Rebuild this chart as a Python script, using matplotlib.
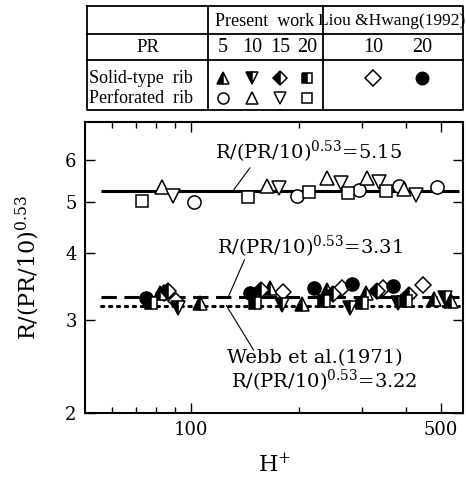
import numpy as np
import matplotlib
matplotlib.use('Agg')
import matplotlib.pyplot as plt
from matplotlib.ticker import FixedLocator, NullLocator, FixedFormatter

plt.rcParams['mathtext.fontset'] = 'dejavuserif'

# H+ and R/(PR/10)^0.53
# perforated ribs (upper group)
perf_pr5_h = [102, 198, 295, 382, 488]
perf_pr5_r = [5.01, 5.14, 5.27, 5.37, 5.33]
perf_pr10_h = [83, 163, 240, 311, 393]
perf_pr10_r = [5.33, 5.37, 5.55, 5.56, 5.30]
perf_pr15_h = [89, 176, 262, 336, 426]
perf_pr15_r = [5.14, 5.31, 5.43, 5.45, 5.16]
perf_pr20_h = [73, 144, 213, 275, 350]
perf_pr20_r = [5.03, 5.12, 5.22, 5.20, 5.24]

# solid-type ribs (lower group)
solid_pr5_h = [82, 106, 166, 204, 240, 308, 479, 533]
solid_pr5_r = [3.37, 3.23, 3.44, 3.21, 3.42, 3.37, 3.28, 3.25]
solid_pr10_h = [92, 179, 279, 378, 512]
solid_pr10_r = [3.16, 3.20, 3.16, 3.23, 3.30]
solid_pr15_h = [86, 157, 250, 330, 408]
solid_pr15_r = [3.40, 3.42, 3.36, 3.40, 3.34]
solid_pr20_h = [77, 151, 235, 301, 399]
solid_pr20_r = [3.23, 3.23, 3.25, 3.23, 3.25]

# Liou & Hwang (1992)
lh_pr10_h = [84, 91, 181, 264, 343, 444]
lh_pr10_r = [3.37, 3.25, 3.39, 3.44, 3.44, 3.49]
lh_pr20_h = [75, 146, 220, 282, 366]
lh_pr20_r = [3.30, 3.37, 3.44, 3.50, 3.47]

# correlation lines
perf_fit = 5.25
solid_fit = 3.31
webb_fit = 3.19
fit_h = [56, 560]

serif = 'DejaVu Serif'
tabfont = 'Liberation Serif'

fig = plt.figure(figsize=(4.66, 4.79), dpi=100)
ax = fig.add_axes([85/466, 1-413/479, 378/466, 291/479])
ax.set_xscale('log')
ax.set_yscale('log')
ax.set_xlim(50.5, 576)
ax.set_ylim(2, 7.08)

ax.plot(fit_h, [perf_fit]*2, color='black', lw=2.2, solid_capstyle='butt')
ax.plot(fit_h, [solid_fit]*2, color='black', lw=2.2, ls=(0, (5, 2.5)))
ax.plot(fit_h, [webb_fit]*2, color='black', lw=2.2, ls=(0, (0.8, 1.8)), dash_capstyle='round')

ms = 9.5
open_kw = dict(ls='none', mfc='white', mec='black', mew=1.1, ms=ms)
half_kw = dict(ls='none', mfc='black', mfcalt='white', mec='black', mew=1.1,
               ms=ms, fillstyle='left')
ax.plot(perf_pr5_h, perf_pr5_r, 'o', **open_kw)
ax.plot(perf_pr10_h, perf_pr10_r, '^', **open_kw)
ax.plot(perf_pr15_h, perf_pr15_r, 'v', **open_kw)
ax.plot(perf_pr20_h, perf_pr20_r, 's', **dict(open_kw, ms=9))
ax.plot(lh_pr10_h, lh_pr10_r, 'D', **dict(open_kw, ms=8.5))
ax.plot(lh_pr20_h, lh_pr20_r, 'o', ls='none', color='black', ms=ms)
ax.plot(solid_pr5_h, solid_pr5_r, '^', **half_kw)
ax.plot(solid_pr10_h, solid_pr10_r, 'v', **half_kw)
ax.plot(solid_pr15_h, solid_pr15_r, 'D', **dict(half_kw, ms=8.5))
ax.plot(solid_pr20_h, solid_pr20_r, 's', **dict(half_kw, ms=8.5))

lab = 'R/(PR/10)$^{0.53}$='
afs = 14
ax.text(213, 6.22, lab + '5.15', ha='center', va='center', fontsize=afs, family=serif)
ax.plot([146, 131], [5.80, perf_fit], color='black', lw=0.8)
ax.text(215, 4.11, lab + '3.31', ha='center', va='center', fontsize=afs, family=serif)
ax.plot([141, 127], [3.89, solid_fit], color='black', lw=0.8)
ax.text(222, 2.54, 'Webb et al.(1971)', ha='center', va='center', fontsize=afs, family=serif)
ax.text(236, 2.30, lab + '3.22', ha='center', va='center', fontsize=afs, family=serif)
ax.plot([125.5, 149.5], [webb_fit, 2.63], color='black', lw=0.8)

ax.xaxis.set_major_locator(FixedLocator([100, 500]))
ax.xaxis.set_major_formatter(FixedFormatter(['100', '500']))
ax.xaxis.set_minor_locator(FixedLocator([60, 70, 80, 90, 200, 300, 400]))
ax.yaxis.set_major_locator(FixedLocator([2, 3, 4, 5, 6]))
ax.yaxis.set_major_formatter(FixedFormatter(['2', '3', '4', '5', '6']))
ax.yaxis.set_minor_locator(NullLocator())
ax.tick_params(which='both', direction='in', top=True, right=True, width=1.0,
               labelsize=13, pad=6)
ax.tick_params(which='major', length=7)
ax.tick_params(which='minor', length=4)
for lbl in ax.get_xticklabels() + ax.get_yticklabels():
    lbl.set_family(serif)
for s in ax.spines.values():
    s.set_linewidth(1.5)

ax.set_xlabel('H$^{+}$', fontsize=16, family=serif, labelpad=10)
ax.set_ylabel('R/(PR/10)$^{0.53}$', fontsize=16, family=serif, labelpad=17)

# legend table, laid out in pixel units
tab = fig.add_axes([0, 0, 1, 1], zorder=-1)
tab.set_xlim(0, 466)
tab.set_ylim(479, 0)
tab.axis('off')
x0, x1, x2, x3 = 87, 208, 323, 463
y0, y1, y2, y3 = 6, 34, 60, 110
lw = 1.3
tab.plot([x0, x3, x3, x0, x0], [y0, y0, y3, y3, y0], color='black', lw=lw)
tab.plot([x0, x3], [y1, y1], color='black', lw=lw)
tab.plot([x0, x3], [y2, y2], color='black', lw=lw)
tab.plot([x1, x1], [y0, y3], color='black', lw=lw)
tab.plot([x2, x2], [y0, y3], color='black', lw=lw)

tfs = 13.5
tab.text(265, 21, 'Present  work', ha='center', va='center', fontsize=13, family=tabfont)
tab.text(392, 21, 'Liou &Hwang(1992)', ha='center', va='center', fontsize=12.5, family=tabfont)
tab.text(148, 47, 'PR', ha='center', va='center', fontsize=tfs, family=tabfont)
tab.text(89, 78, 'Solid-type  rib', ha='left', va='center', fontsize=13, family=tabfont)
tab.text(89, 98, 'Perforated  rib', ha='left', va='center', fontsize=13, family=tabfont)

pr_present = ['5', '10', '15', '20']
pr_lh = ['10', '20']
col_present = [223, 252, 280, 307]
col_lh = [373, 422]
for cx, t in zip(col_present, pr_present):
    tab.text(cx, 47, t, ha='center', va='center', fontsize=tfs + 1, family=tabfont)
for cx, t in zip(col_lh, pr_lh):
    tab.text(cx, 47, t, ha='center', va='center', fontsize=tfs + 1, family=tabfont)

tms = 8
for cx, m in zip(col_present, ['^', 'v', 'D', 's']):
    tab.plot(cx, 78, m, **dict(half_kw, ms=tms if m in '^v' else 7))
for cx, m in zip(col_present, ['o', '^', 'v', 's']):
    tab.plot(cx, 98, m, **dict(open_kw, ms=tms if m != 's' else 7))
tab.plot(col_lh[0], 78, 'D', **dict(open_kw, ms=8))
tab.plot(col_lh[1], 78, 'o', color='black', ms=9)

fig.savefig('out.png', dpi=100)
